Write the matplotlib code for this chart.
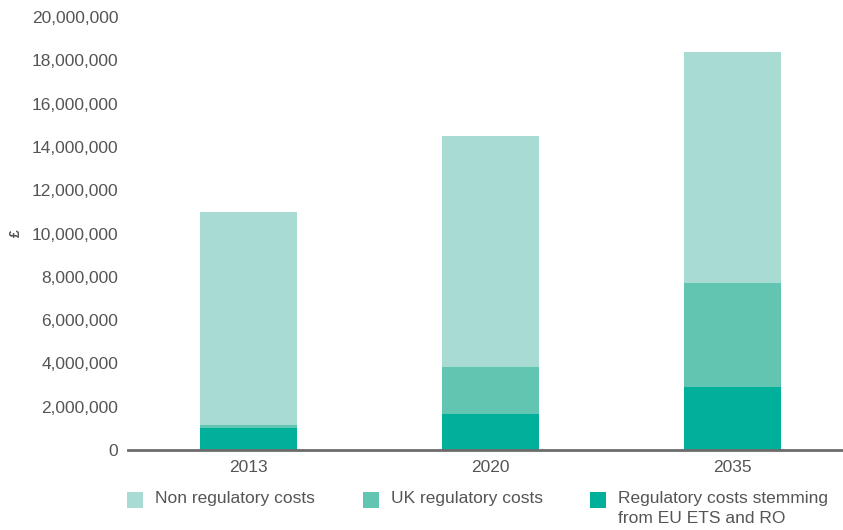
import matplotlib.pyplot as plt
from matplotlib.patches import Rectangle
from matplotlib.ticker import FuncFormatter

years = ["2013", "2020", "2035"]
eu_ets_ro = [1030000, 1660000, 2910000]
uk_regulatory = [120000, 2170000, 4800000]
non_regulatory = [9850000, 10670000, 10670000]

legend_labels = ["Non regulatory costs", "UK regulatory costs",
                 "Regulatory costs stemming\nfrom EU ETS and RO"]
colors = ["#a8dcd3", "#62c5b1", "#00b09a"]
text_color = "#555555"

plt.rcParams["font.family"] = ["Liberation Sans", "DejaVu Sans"]

fig = plt.figure(figsize=(8.43, 5.30), dpi=100)
ax = fig.add_axes([128 / 843, 80 / 530, 725 / 843, 433 / 530])

x = range(len(years))
width = 0.4
ax.bar(x, eu_ets_ro, width, color=colors[2], linewidth=0)
ax.bar(x, uk_regulatory, width, bottom=eu_ets_ro, color=colors[1], linewidth=0)
base = [a + b for a, b in zip(eu_ets_ro, uk_regulatory)]
ax.bar(x, non_regulatory, width, bottom=base, color=colors[0], linewidth=0)

ax.set_xlim(-0.5, 2.5)
ax.set_ylim(0, 20000000)
ax.set_yticks(range(0, 20000001, 2000000))
ax.yaxis.set_major_formatter(FuncFormatter(lambda v, p: f"{int(v):,}"))
ax.set_xticks(list(x))
ax.set_xticklabels(years)

for s in ["top", "right", "left"]:
    ax.spines[s].set_visible(False)
ax.spines["bottom"].set_color("#6b6b6b")
ax.spines["bottom"].set_linewidth(2)
ax.tick_params(axis="both", length=0, labelsize=12.5, colors=text_color)
ax.tick_params(axis="y", pad=7)
ax.tick_params(axis="x", pad=7)

ax.set_ylabel("£", fontsize=10, fontweight="bold", color=text_color, labelpad=6)

# legend drawn by hand in figure coordinates
legend_x = [127, 363, 590]
for lx, lab, col in zip(legend_x, legend_labels, colors):
    fig.patches.append(Rectangle((lx / 843, 1 - 508 / 530), 16 / 843, 16 / 530,
                                 transform=fig.transFigure, color=col, linewidth=0))
    fig.text((lx + 28) / 843, 1 - 491 / 530, lab, fontsize=12.5, color=text_color,
             va="top", ha="left", linespacing=1.45)

fig.savefig("out.png", dpi=100)
